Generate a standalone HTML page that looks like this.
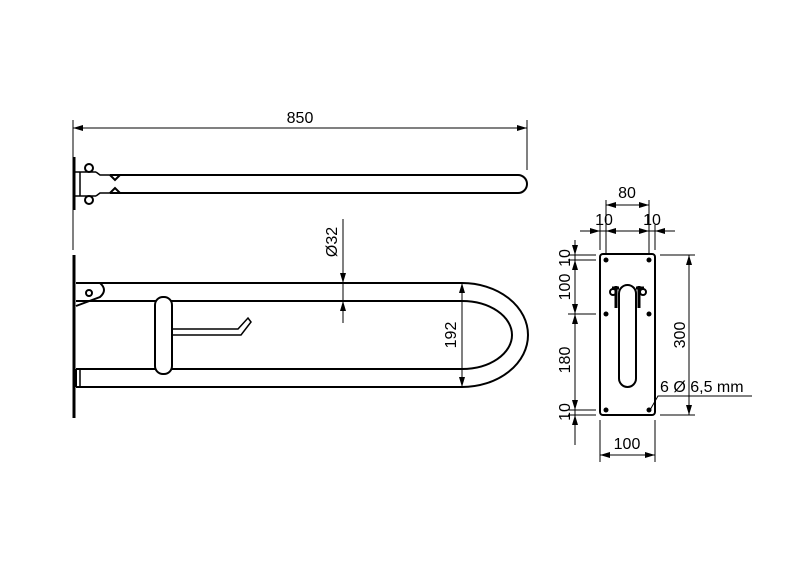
<!DOCTYPE html>
<html><head><style>html,body{margin:0;padding:0;background:#fff}svg{display:block}
text{font-family:"Liberation Sans",sans-serif;font-size:16px;fill:#000}</style></head>
<body>
<svg width="800" height="565" viewBox="0 0 800 565" xmlns="http://www.w3.org/2000/svg">
<defs>
<marker id="a" viewBox="0 0 10 6" refX="10" refY="3" markerWidth="10" markerHeight="6" orient="auto-start-reverse" markerUnits="userSpaceOnUse"><path d="M0,0 L10,3 L0,6 z" fill="#000"/></marker>
</defs>
<g stroke="#000" fill="none" stroke-width="1">
<line x1="73" y1="120" x2="73" y2="250"/>
<line x1="527" y1="120" x2="527" y2="170"/>
<line x1="73" y1="128" x2="527" y2="128" marker-start="url(#a)" marker-end="url(#a)"/>
<line x1="74" y1="157" x2="74" y2="210" stroke-width="3"/>
<path d="M75,172 H96 M75,196 H96 M80,172 V196" stroke-width="1.5"/>
<path d="M96,172 L100,175 H110 M96,196 L100,193 H110" stroke-width="1.5"/>
<circle cx="89" cy="168" r="4" stroke-width="2"/><circle cx="89" cy="200" r="4" stroke-width="2"/>
<path d="M110,175 L115,180 L120,175 M110,193 L115,188 L120,193" stroke-width="2"/>
<path d="M110,175 H518 A9,9 0 0 1 518,193 H110" stroke-width="2"/>
<line x1="74" y1="255" x2="74" y2="418" stroke-width="3"/>
<path d="M76,283 H462 A66,52 0 0 1 462,387 H76 M76,387 V369 M100,283 Q108,290 100,297 L76,306" stroke-width="2"/>
<path d="M76,301 H462 A50,34 0 0 1 462,369 H76" stroke-width="2"/>
<line x1="80" y1="369" x2="80" y2="387" stroke-width="1.5"/>
<circle cx="89" cy="293" r="3" stroke-width="2"/>
<rect x="155" y="297" width="17" height="77" rx="8" fill="#fff" stroke-width="2"/>
<path d="M172,329 H238 L248,318 L251,322 L241,335 H172" stroke-width="1.5"/>
<line x1="343" y1="219" x2="343" y2="283" marker-end="url(#a)"/>
<line x1="343" y1="323" x2="343" y2="301" marker-end="url(#a)"/>
<line x1="343" y1="283" x2="343" y2="301"/>
<line x1="462" y1="283" x2="462" y2="387" marker-start="url(#a)" marker-end="url(#a)"/>
<rect x="600" y="254" width="55" height="161" rx="3" stroke-width="2"/>
<g fill="#000" stroke="none">
<circle cx="606" cy="260" r="2.5"/><circle cx="649" cy="260" r="2.5"/>
<circle cx="606" cy="314" r="2.5"/><circle cx="649" cy="314" r="2.5"/>
<circle cx="606" cy="410" r="2.5"/><circle cx="649" cy="410" r="2.5"/>
</g>
<rect x="619" y="285" width="17" height="102" rx="8.5" stroke-width="2"/>
<path d="M616,286 V308 M639,286 V308 M612,288 H619 M636,288 H644" stroke-width="3"/>
<circle cx="613" cy="292" r="3" stroke-width="2"/><circle cx="643" cy="292" r="3" stroke-width="2"/>
<line x1="606" y1="200" x2="606" y2="255"/><line x1="649" y1="200" x2="649" y2="255"/>
<line x1="600" y1="225" x2="600" y2="250"/><line x1="655" y1="225" x2="655" y2="250"/>
<line x1="606" y1="205" x2="649" y2="205" marker-start="url(#a)" marker-end="url(#a)"/>
<line x1="580" y1="231" x2="675" y2="231"/>
<line x1="590" y1="231" x2="600" y2="231" marker-end="url(#a)"/>
<line x1="616" y1="231" x2="606" y2="231" marker-end="url(#a)"/>
<line x1="639" y1="231" x2="649" y2="231" marker-end="url(#a)"/>
<line x1="665" y1="231" x2="655" y2="231" marker-end="url(#a)"/>
<line x1="660" y1="255" x2="695" y2="255"/><line x1="660" y1="415" x2="695" y2="415"/>
<line x1="689" y1="255" x2="689" y2="415" marker-start="url(#a)" marker-end="url(#a)"/>
<line x1="600" y1="420" x2="600" y2="462"/><line x1="655" y1="420" x2="655" y2="462"/>
<line x1="600" y1="455" x2="655" y2="455" marker-start="url(#a)" marker-end="url(#a)"/>
<line x1="575" y1="240" x2="575" y2="445"/>
<line x1="568" y1="255" x2="596" y2="255"/><line x1="568" y1="260" x2="596" y2="260"/>
<line x1="568" y1="314" x2="596" y2="314"/>
<line x1="568" y1="410" x2="596" y2="410"/><line x1="568" y1="415" x2="596" y2="415"/>
<line x1="575" y1="245" x2="575" y2="255" marker-end="url(#a)"/>
<line x1="575" y1="270" x2="575" y2="260" marker-end="url(#a)"/>
<line x1="575" y1="300" x2="575" y2="314" marker-end="url(#a)"/>
<line x1="575" y1="328" x2="575" y2="314" marker-end="url(#a)"/>
<line x1="575" y1="398" x2="575" y2="410" marker-end="url(#a)"/>
<line x1="575" y1="428" x2="575" y2="415" marker-end="url(#a)"/>
<path d="M650,410 L658,396 H752"/>
</g>
<text x="300" y="123" text-anchor="middle">850</text>
<text transform="translate(337,242) rotate(-90)" text-anchor="middle">Ø32</text>
<text transform="translate(456,335) rotate(-90)" text-anchor="middle">192</text>
<text x="627" y="198" text-anchor="middle">80</text>
<text x="604" y="225" text-anchor="middle">10</text>
<text x="652" y="225" text-anchor="middle">10</text>
<text transform="translate(685,335) rotate(-90)" text-anchor="middle">300</text>
<text x="627" y="449" text-anchor="middle">100</text>
<text transform="translate(570,258) rotate(-90)" text-anchor="middle">10</text>
<text transform="translate(570,287) rotate(-90)" text-anchor="middle">100</text>
<text transform="translate(570,360) rotate(-90)" text-anchor="middle">180</text>
<text transform="translate(570,412) rotate(-90)" text-anchor="middle">10</text>
<text x="660" y="392">6 Ø 6,5 mm</text>
</svg>
</body></html>
